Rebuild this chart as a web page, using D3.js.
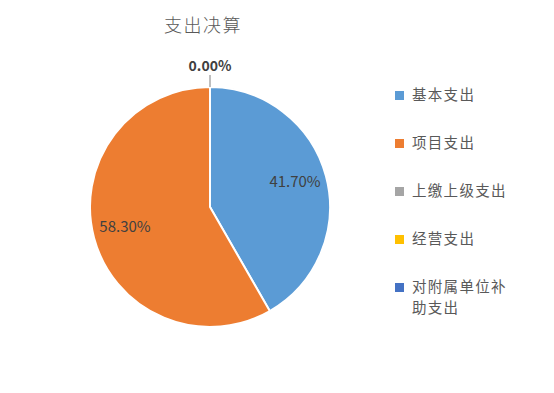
<!DOCTYPE html>
<html>
<head>
<meta charset="utf-8">
<script src="https://cdn.jsdelivr.net/npm/d3@7"></script>
<style>
  body { margin: 0; background: #fff; }
  text { font-family: "Noto Sans CJK SC", "Noto Sans", sans-serif; }
</style>
</head>
<body>
<div id="chart"></div>
<script>
// data
var categories = ['基本支出', '项目支出', '上缴上级支出', '经营支出', '对附属单位补助支出'];
var values = [41.7, 58.3, 0, 0, 0];
var colors = ['#5B9BD5', '#ED7D31', '#A5A5A5', '#FFC000', '#4472C4'];
// legend wraps the long name onto two lines
var legendLines = [['基本支出'], ['项目支出'], ['上缴上级支出'], ['经营支出'], ['对附属单位补', '助支出']];

var w = 554, h = 393;
var cx = 210, cy = 207, r = 120;

var svg = d3.select('#chart').append('svg')
  .attr('width', w)
  .attr('height', h);

svg.append('text')
  .attr('x', 203)
  .attr('y', 32)
  .attr('text-anchor', 'middle')
  .attr('font-size', 18)
  .attr('font-weight', 300)
  .attr('letter-spacing', 1.5)
  .attr('fill', '#595959')
  .text('支出决算');

var data = categories.map(function(c, i) {
  return { name: c, value: values[i], color: colors[i] };
});

var pie = d3.pie().sort(null).value(function(d) { return d.value; });
var arcs = pie(data);

var arc = d3.arc().innerRadius(0).outerRadius(r);
var labelArc = d3.arc().innerRadius(88).outerRadius(88);

var g = svg.append('g').attr('transform', 'translate(' + cx + ',' + cy + ')');

g.selectAll('path')
  .data(arcs)
  .enter()
  .append('path')
  .attr('d', arc)
  .attr('fill', function(d) { return d.data.color; })
  .attr('stroke', '#fff')
  .attr('stroke-width', 2);

// labels for slices with value
g.selectAll('.lbl')
  .data(arcs.filter(function(d) { return d.data.value > 0; }))
  .enter()
  .append('text')
  .attr('class', 'lbl')
  .attr('transform', function(d) {
    var c = labelArc.centroid(d);
    return 'translate(' + c[0] + ',' + (c[1] - 3) + ')';
  })
  .attr('text-anchor', 'middle')
  .attr('dy', '0.35em')
  .attr('font-size', 15)
  .attr('fill', '#404040')
  .text(function(d) { return d.data.value.toFixed(2) + '%'; });

// zero slices all sit at the top; one label with a leader line
var zero = arcs.filter(function(d) { return d.data.value === 0; })[0];
if (zero) {
  var a = zero.startAngle;
  g.append('line')
    .attr('x1', Math.sin(a) * r)
    .attr('y1', -Math.cos(a) * r)
    .attr('x2', Math.sin(a) * (r + 12))
    .attr('y2', -Math.cos(a) * (r + 12))
    .attr('stroke', '#7f7f7f')
    .attr('stroke-width', 1);
  g.append('text')
    .attr('x', Math.sin(a) * (r + 12))
    .attr('y', -Math.cos(a) * (r + 12) - 4)
    .attr('text-anchor', 'middle')
    .attr('font-size', 14)
    .attr('font-weight', 600)
    .attr('fill', '#404040')
    .text(zero.data.value.toFixed(2) + '%');
}

// legend
var legend = svg.append('g').attr('transform', 'translate(395,0)');
var ly = d3.scalePoint().domain(categories).range([95, 287]);

var item = legend.selectAll('.item')
  .data(data)
  .enter()
  .append('g')
  .attr('class', 'item')
  .attr('transform', function(d) { return 'translate(0,' + ly(d.name) + ')'; });

item.append('rect')
  .attr('x', 0)
  .attr('y', -4)
  .attr('width', 9)
  .attr('height', 9)
  .attr('fill', function(d) { return d.color; });

item.append('text')
  .attr('x', 17)
  .attr('font-size', 14.5)
  .attr('letter-spacing', 1.3)
  .attr('fill', '#595959')
  .selectAll('tspan')
  .data(function(d, i) { return legendLines[i]; })
  .enter()
  .append('tspan')
  .attr('x', 17)
  .attr('y', function(d, i) { return i * 21; })
  .attr('dy', '0.35em')
  .text(function(d) { return d; });
</script>
</body>
</html>
